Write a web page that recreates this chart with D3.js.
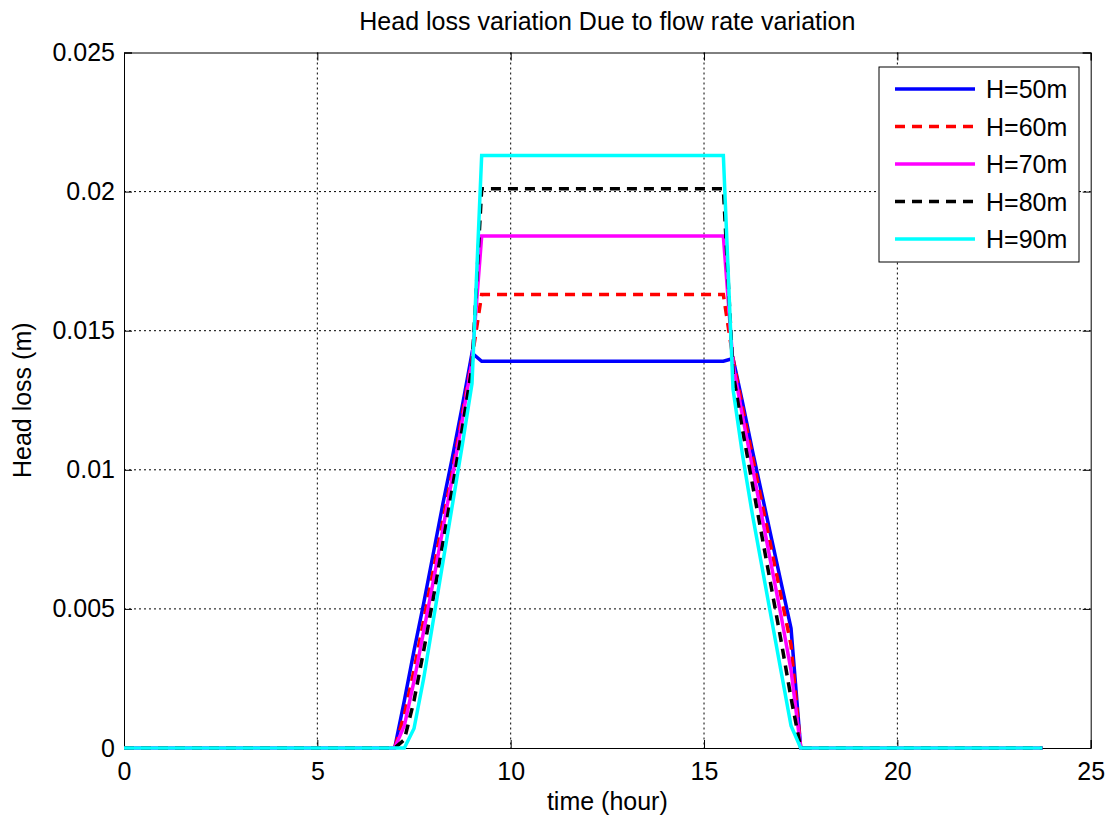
<!DOCTYPE html>
<meta charset="utf-8">
<style>
  body {
    margin: 0;
    background: #fff;
    font-family: "Liberation Sans", Arial, sans-serif;
  }
  .grid line {
    stroke: #000;
    stroke-dasharray: 2,3;
    stroke-width: 1;
  }
</style>
<body>
  <script src="https://d3js.org/d3.v7.min.js"></script>
  <div id="chart"></div>
  <script>
    const width = 1108;
    const height = 819;
    const margin = {top: 52.5, right: 17.3, bottom: 71, left: 124};

    // time in hours (vertices of the curves)
    const times = [0, 7, 7.25, 7.5, 7.75, 8, 8.25, 8.5, 8.75, 9, 9.25,
                   15.5, 15.75, 16, 16.25, 16.5, 16.75, 17, 17.25, 17.5, 23.75];

    const h50 = [0, 0, 0.0017, 0.0035, 0.0052, 0.0070, 0.0088, 0.0105, 0.0123, 0.0142, 0.0139,
                 0.0139, 0.0140, 0.0124, 0.0107, 0.0091, 0.0075, 0.0059, 0.0043, 0, 0];
    const h60 = [0, 0, 0.0012, 0.0028, 0.0046, 0.0064, 0.0082, 0.0100, 0.0120, 0.0140, 0.0163,
                 0.0163, 0.0140, 0.0122, 0.0105, 0.0088, 0.0071, 0.0054, 0.0037, 0, 0];
    const h70 = [0, 0, 0.0008, 0.0024, 0.0042, 0.0060, 0.0079, 0.0098, 0.0118, 0.0139, 0.0184,
                 0.0184, 0.0138, 0.0119, 0.0101, 0.0083, 0.0065, 0.0047, 0.0028, 0, 0];
    const h80 = [0, 0, 0.0003, 0.0017, 0.0035, 0.0054, 0.0074, 0.0094, 0.0115, 0.0137, 0.0201,
                 0.0201, 0.0135, 0.0114, 0.0095, 0.0076, 0.0057, 0.0038, 0.0018, 0, 0];
    const h90 = [0, 0, 0, 0.0007, 0.0025, 0.0046, 0.0067, 0.0088, 0.0109, 0.0131, 0.0213,
                 0.0213, 0.0129, 0.0105, 0.0084, 0.0065, 0.0046, 0.0027, 0.0008, 0, 0];

    const labels = ["H=50m", "H=60m", "H=70m", "H=80m", "H=90m"];
    const colors = ["#0000ff", "#ff0000", "#ff00ff", "#000000", "#00ffff"];
    const dashes = [null, "10,7", null, "10,7", null];

    const xTicks = [0, 5, 10, 15, 20, 25];
    const yTicks = [0, 0.005, 0.01, 0.015, 0.02, 0.025];

    const series = [h50, h60, h70, h80, h90].map((vals, i) => ({
      name: labels[i],
      color: colors[i],
      dash: dashes[i],
      values: vals.map((v, j) => ({t: times[j], v: v}))
    }));

    const innerW = width - margin.left - margin.right;
    const innerH = height - margin.top - margin.bottom;

    const svg = d3.select("#chart")
      .append("svg")
      .attr("width", width)
      .attr("height", height);

    const g = svg.append("g")
      .attr("transform", `translate(${margin.left},${margin.top})`);

    const x = d3.scaleLinear().domain([0, 25]).range([0, innerW]);
    const y = d3.scaleLinear().domain([0, 0.025]).range([innerH, 0]);

    // grid
    g.append("g").attr("class", "grid")
      .selectAll("line")
      .data(xTicks.slice(1, -1))
      .join("line")
      .attr("x1", d => x(d)).attr("x2", d => x(d))
      .attr("y1", 0).attr("y2", innerH);

    g.append("g").attr("class", "grid")
      .selectAll("line")
      .data(yTicks.slice(1, -1))
      .join("line")
      .attr("y1", d => y(d)).attr("y2", d => y(d))
      .attr("x1", 0).attr("x2", innerW);

    // axes (ticks inside, like matlab)
    const fmtY = d => d === 0 ? "0" : String(d);
    const xAxis = g.append("g")
      .attr("transform", `translate(0,${innerH})`)
      .call(d3.axisBottom(x).tickValues(xTicks).tickSize(-8).tickPadding(14).tickFormat(d3.format("d")));
    const xTop = g.append("g")
      .call(d3.axisTop(x).tickValues(xTicks).tickSize(-8).tickFormat(""));
    const yAxis = g.append("g")
      .call(d3.axisLeft(y).tickValues(yTicks).tickSize(-8).tickPadding(9).tickFormat(fmtY));
    const yRight = g.append("g")
      .attr("transform", `translate(${innerW},0)`)
      .call(d3.axisRight(y).tickValues(yTicks).tickSize(-8).tickFormat(""));

    [xAxis, xTop, yAxis, yRight].forEach(a => {
      a.select(".domain").attr("stroke", "#000").attr("stroke-width", 1);
      a.selectAll(".tick line").attr("stroke", "#000");
      a.selectAll("text")
        .attr("font-family", "Liberation Sans, Arial, sans-serif")
        .attr("font-size", 25)
        .attr("fill", "#000");
    });

    // lines
    const line = d3.line()
      .x(d => x(d.t))
      .y(d => y(d.v));

    g.append("g")
      .selectAll("path")
      .data(series)
      .join("path")
      .attr("d", d => line(d.values))
      .attr("fill", "none")
      .attr("stroke", d => d.color)
      .attr("stroke-width", 3.5)
      .attr("stroke-dasharray", d => d.dash);

    // title and axis labels
    svg.append("text")
      .attr("x", margin.left + innerW / 2)
      .attr("y", 30)
      .attr("text-anchor", "middle")
      .attr("font-size", 25)
      .text("Head loss variation Due to flow rate variation");

    svg.append("text")
      .attr("x", margin.left + innerW / 2)
      .attr("y", 810)
      .attr("text-anchor", "middle")
      .attr("font-size", 25)
      .text("time (hour)");

    svg.append("text")
      .attr("transform", `translate(31,${margin.top + innerH / 2}) rotate(-90)`)
      .attr("text-anchor", "middle")
      .attr("font-size", 25)
      .text("Head loss (m)");

    // legend
    const legend = svg.append("g").attr("transform", "translate(879,67)");
    legend.append("rect")
      .attr("width", 200)
      .attr("height", 195)
      .attr("fill", "#fff")
      .attr("stroke", "#000")
      .attr("stroke-width", 1);

    const item = legend.selectAll("g.item")
      .data(series)
      .join("g")
      .attr("class", "item")
      .attr("transform", (d, i) => `translate(0,${22 + i * 37.5})`);

    item.append("line")
      .attr("x1", 16).attr("x2", 96)
      .attr("stroke", d => d.color)
      .attr("stroke-width", 3.5)
      .attr("stroke-dasharray", d => d.dash);

    item.append("text")
      .attr("x", 107)
      .attr("dy", "0.36em")
      .attr("font-size", 25)
      .text(d => d.name);
  </script>
</body>
